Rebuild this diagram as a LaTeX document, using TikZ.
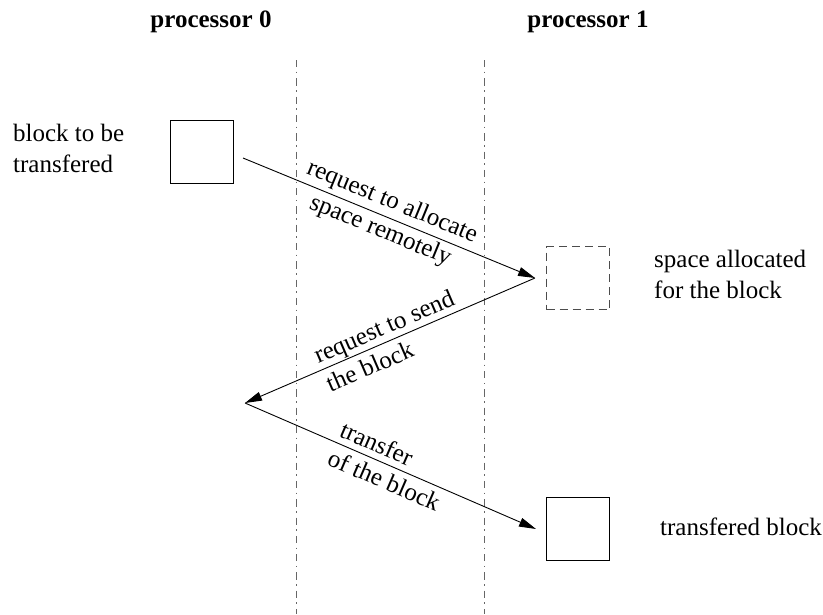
\documentclass[tikz,border=0pt]{standalone}
\usepackage{fontspec}
\setmainfont{Liberation Serif}
\usetikzlibrary{arrows.meta}
\begin{document}
\begin{tikzpicture}[x=1pt,y=-1pt,
  every node/.style={font=\fontsize{25}{31}\selectfont, inner sep=0pt},
  blockbox/.style={draw, line width=1pt, minimum size=63pt, anchor=north west},
  freebox/.style={draw=black!70, line width=1pt, dash pattern=on 8pt off 5pt, minimum size=63pt, anchor=north west},
  divider/.style={draw=black!60, line width=1pt, dash pattern=on 7.3pt off 4.4pt on 1.6pt off 5pt},
  msg/.style={draw, line width=0.9pt, -{Triangle[length=17pt,width=9pt]}},
  head/.style={font=\fontsize{25}{31}\selectfont\bfseries, anchor=base},
  plain/.style={anchor=base west, align=left}]
\useasboundingbox (0,0) rectangle (823,614);
% headings
\node[head] (p0) at (211,27) {processor 0};
\node[head] (p1) at (588,27) {processor 1};
% dividers
\coordinate (d0t) at (296,60); \coordinate (d0b) at (296,614);
\coordinate (d1t) at (484,60); \coordinate (d1b) at (484,614);
\draw[divider] (d0t) -- (d0b);
\draw[divider] (d1t) -- (d1b);
% boxes
\node[blockbox] (src) at (170,120) {};
\node[freebox] (spc) at (546,246) {};
\node[blockbox] (dst) at (546,497) {};
% side texts (anchor at baseline of last line)
\node[plain] (tsrc) at (13,172) {block to be\\transfered};
\node[plain] (tspc) at (654,298) {space allocated\\for the block};
\node[plain] (tdst) at (660,535) {transfered block};
% messages
\coordinate (a0) at (243,158);
\coordinate (a1) at (535,278);
\coordinate (a2) at (245,403);
\coordinate (a3) at (536,529);
\draw[msg] (a0) -- node[sloped, align=center, pos=0.49] (m1) {request to allocate\\space remotely} (a1);
\draw[msg] (a1) -- node[sloped, align=left] (m2) {request to send\\the block} (a2);
\draw[msg] (a2) -- node[sloped, align=left] (m3) {transfer\\of the block} (a3);
\end{tikzpicture}
\end{document}
